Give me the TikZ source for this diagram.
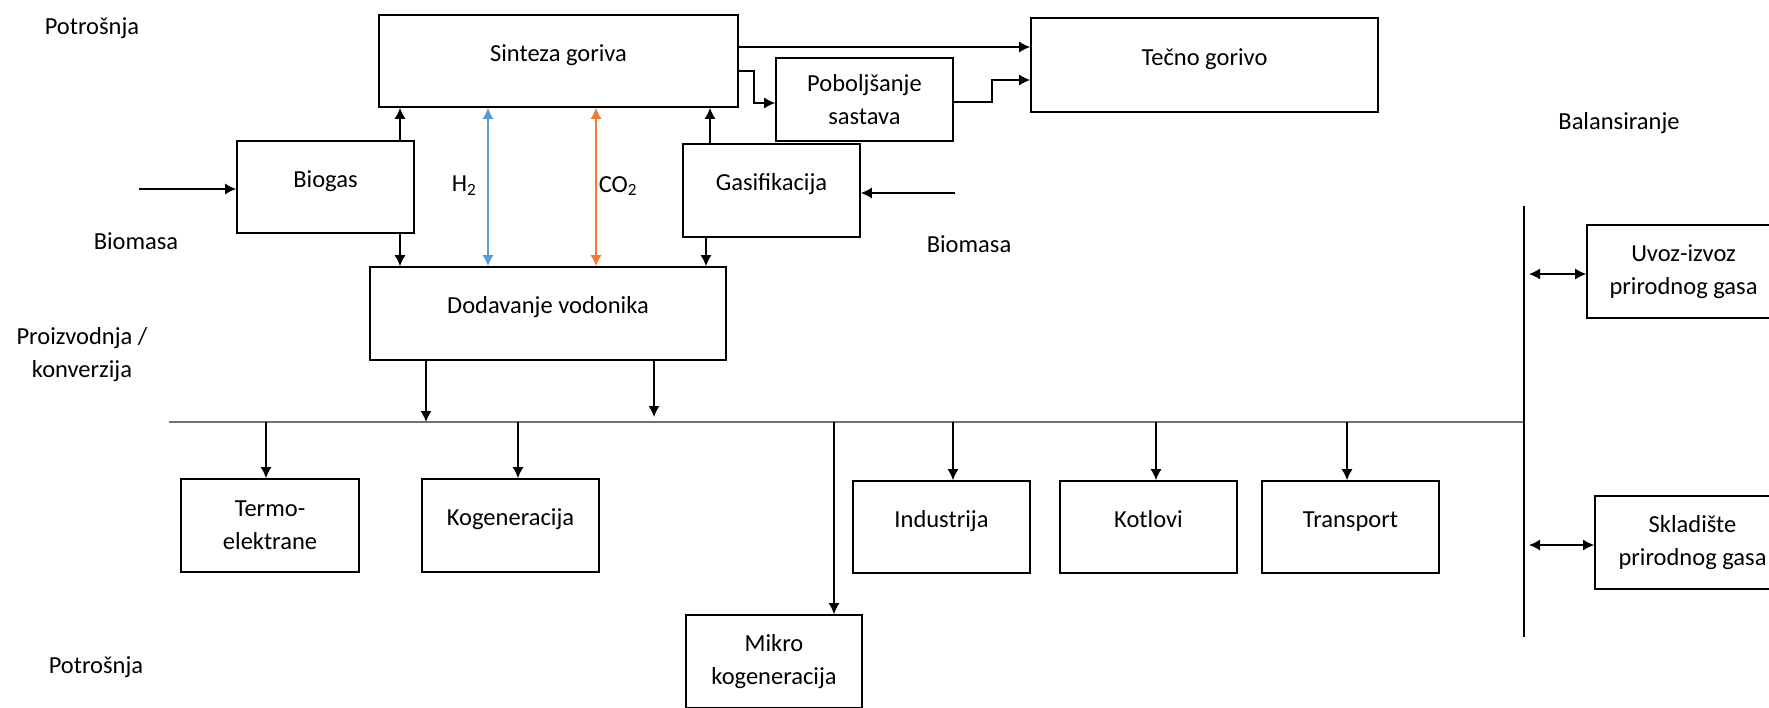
\documentclass[tikz,border=0pt]{standalone}
\usepackage{fontspec}
\setmainfont{Carlito}
\usetikzlibrary{arrows.meta,positioning}

\definecolor{plava}{RGB}{91,155,213}
\definecolor{narandzasta}{RGB}{237,125,49}

\tikzset{
  kutija/.style={draw, line width=1.6pt, minimum width=177pt, minimum height=93pt,
    inner sep=0pt, align=center, font=\fontsize{24.5}{33}\selectfont},
  jedan/.style={text height=12pt, text depth=12pt},
  natpis/.style={align=center, font=\fontsize{24.5}{33}\selectfont},
  strelica/.style={-{Latex[length=11pt,width=11pt]}, line width=1.5pt},
  dvostruka/.style={{Latex[length=11pt,width=11pt]}-{Latex[length=11pt,width=11pt]}, line width=1.5pt},
}

\begin{document}
\begin{tikzpicture}[x=1pt,y=-1pt]
\useasboundingbox (0,0) rectangle (1769,707);

% gornji deo
\node[kutija,jedan,minimum width=359pt,minimum height=92pt] (sinteza) at (558.5,61) {Sinteza goriva};
\node[kutija,jedan,minimum width=347pt,minimum height=94pt] (tecno) at (1204.5,65) {Tečno gorivo};
\node[kutija,minimum height=83pt] (poboljsanje) at (864.5,99.5) {Poboljšanje\\sastava};
\node[kutija,jedan,minimum height=92pt] (biogas) at (325.5,187) {Biogas};
\node[kutija,jedan] (gasifikacija) at (771.5,190.5) {Gasifikacija};
\node[kutija,jedan,minimum width=356pt] (dodavanje) at (548,313.5) {Dodavanje vodonika};

% potrosnja
\node[kutija,minimum width=178pt] (termo) at (270,525.5) {Termo-\\elektrane};
\node[kutija,jedan] (kogeneracija) at (510.5,525.5) {Kogeneracija};
\node[kutija,minimum width=176pt] (mikro) at (774,661.5) {Mikro\\kogeneracija};
\node[kutija,jedan,minimum height=92pt] (industrija) at (941.5,527) {Industrija};
\node[kutija,jedan,minimum height=92pt] (kotlovi) at (1148.5,527) {Kotlovi};
\node[kutija,jedan,minimum height=92pt] (transport) at (1350.5,527) {Transport};

% balansiranje
\node[kutija,minimum width=193pt] (uvoz) at (1683.5,271.5) {Uvoz-izvoz\\prirodnog gasa};
\node[kutija,minimum width=195pt] (skladiste) at (1692.5,542.5) {Skladište\\prirodnog gasa};

% natpisi
\node[natpis] (potrosnja1) at (92,28) {Potrošnja};
\node[natpis] (biomasa1) at (136,241) {Biomasa};
\node[natpis] (biomasa2) at (969,244) {Biomasa};
\node[natpis] (proizvodnja) at (82,355) {Proizvodnja /\\konverzija};
\node[natpis] (balansiranje) at (1619,123) {Balansiranje};
\node[natpis] (potrosnja2) at (96,667) {Potrošnja};
\node[natpis] (h2) at (464,186) {H\textsubscript{2}};
\node[natpis] (co2) at (618,186) {CO\textsubscript{2}};

\coordinate (ulaz1) at (139,189);
\coordinate (ulaz2) at (955,193);
\coordinate (busL) at (169,422);
\coordinate (busR) at (1525,422);
\coordinate (balG) at (1524,206);
\coordinate (balD) at (1524,637);

% veze
\draw[strelica] (sinteza.east |- 0,47) -- (tecno.west |- 0,47);
\draw[strelica] (sinteza.east |- 0,71) -| (754,103) -- (poboljsanje.west |- 0,103);
\draw[strelica] (poboljsanje.east |- 0,102) -| (992,80) -- (tecno.west |- 0,80);
\draw[strelica] (ulaz1) -- (biogas.west |- ulaz1);
\draw[strelica] (ulaz2) -- (gasifikacija.east |- ulaz2);
\draw[strelica] (biogas.north -| 400,0) -- (sinteza.south -| 400,0);
\draw[strelica] (biogas.south -| 400,0) -- (dodavanje.north -| 400,0);
\draw[strelica] (gasifikacija.north -| 710,0) -- (sinteza.south -| 710,0);
\draw[strelica] (gasifikacija.south -| 706,0) -- (dodavanje.north -| 706,0);
\draw[dvostruka,plava] (sinteza.south -| 488,0) -- (dodavanje.north -| 488,0);
\draw[dvostruka,narandzasta] (sinteza.south -| 596,0) -- (dodavanje.north -| 596,0);

% sabirni vod
\draw[line width=2.6pt, black!55] (busL) -- (busR);
\draw[line width=1.6pt] (balG) -- (balD);
\draw[strelica] (dodavanje.south -| 426,0) -- (426,0 |- busL);
\draw[strelica] (dodavanje.south -| 654,0) -- (654,417);
\foreach \x/\b in {266/termo, 518/kogeneracija, 834/mikro, 953/industrija, 1156/kotlovi, 1347/transport}
  \draw[strelica] (\x,0 |- busL) -- (\b.north -| \x,0);
\draw[dvostruka] (1529,0 |- 0,274) -- (uvoz.west |- 0,274);
\draw[dvostruka] (1529,0 |- 0,545) -- (skladiste.west |- 0,545);
\end{tikzpicture}
\end{document}
